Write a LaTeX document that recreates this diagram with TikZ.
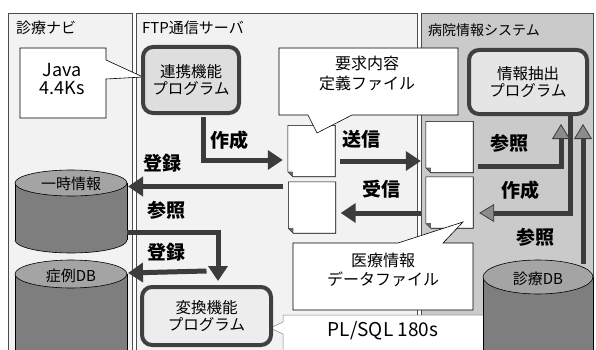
\documentclass[tikz,border=0pt]{standalone}
\usepackage{fontspec}
\setmainfont{Noto Sans CJK JP}
\usetikzlibrary{arrows.meta,calc}
\newcommand{\fsz}[1]{\fontsize{#1}{#1}\selectfont}
\definecolor{arrowc}{HTML}{3C3C3C}
\definecolor{panelA}{HTML}{F2F2F2}
\definecolor{panelC}{HTML}{CACACA}
\definecolor{cyltop}{HTML}{A4A4A4}
\definecolor{cylbody}{HTML}{7E7E7E}
\begin{document}
\begin{tikzpicture}[x=1pt,y=-1pt,
  panel/.style={draw=black!70, line width=0.8pt},
  ttl/.style={font=\fsz{15}, inner sep=0pt, anchor=west},
  prog/.style={draw=black!75, line width=4pt, rounded corners=10pt, align=center, font=\fsz{15.5}\linespread{1.1}\selectfont},
  filebox/.style={minimum width=47pt, minimum height=51pt, inner sep=0pt},
  callout/.style={draw=black, line width=0.6pt, fill=white},
  ctext/.style={align=center, inner sep=0pt},
  lbl/.style={font=\fsz{19}\bfseries, inner sep=0pt},
  cyllbl/.style={font=\fsz{15}, inner sep=0pt},
  fat/.style={draw=arrowc, line width=5pt, -{Triangle[length=15pt,width=19pt]}},
  fatB/.style={draw=arrowc, line width=5pt, -{Triangle[length=15pt,width=18pt,fill=black!45,line width=0.8pt]}},
]
\useasboundingbox (0,0) rectangle (596,350);
\clip (0,0) rectangle (596,350);
\fill[white] (0,0) rectangle (596,350);

% panels
\draw[panel, fill=panelA] (8,13) rectangle (132,360);
\draw[panel, fill=panelA] (136,13) rectangle (417,360);
\draw[panel, fill=panelC] (421,13) rectangle (593,360);

% titles
\node[ttl] (t1) at (16,28) {診療ナビ};
\node[ttl] (t2) at (142,28) {FTP通信サーバ};
\node[ttl, font=\fsz{14}] (t3) at (428,30) {病院情報システム};

% Java callout
\draw[callout] (20,48) -- (106,48) -- (106,60) -- (143,77) -- (106,79) -- (106,118) -- (20,118) -- cycle;
\node[ctext, font=\fsz{18}\linespread{1.0}\selectfont] (java) at (62,79) {Java\\4.4Ks};

% cylinders
% 一時情報
\fill[cylbody] (15,183) rectangle (127,240);
\fill[cylbody] (71,240) ellipse [x radius=56, y radius=13];
\begin{scope}
  \clip (10,240) rectangle (132,256);
  \draw[line width=0.6pt] (71,240) ellipse [x radius=56, y radius=13];
\end{scope}
\draw[line width=0.6pt] (15,183) -- (15,240) (127,183) -- (127,240);
\draw[line width=0.6pt, fill=cyltop] (71,183) ellipse [x radius=56, y radius=13];
\node[cyllbl] (ichiji) at (71,184) {一時情報};
\coordinate (ichijiR) at (128,186.5);
\coordinate (ichijiR2) at (127,232);
% 症例DB
\fill[cylbody] (15,274) rectangle (127,360);
\draw[line width=0.6pt] (15,274) -- (15,360) (127,274) -- (127,360);
\draw[line width=0.6pt, fill=cyltop] (71,274) ellipse [x radius=56, y radius=14];
\node[cyllbl] (shorei) at (71,276) {症例DB};
\coordinate (shoreiR) at (128,273);

% program boxes
\node[prog, fill=black!13, minimum width=96pt, minimum height=66pt] (renkei) at (191,80) {連携機能\\プログラム};
\node[prog, fill=black!10, minimum width=118pt, minimum height=64pt] (chushutsu) at (528,82) {情報抽出\\プログラム};

% files
\node[filebox] (file1) at (311.5,151) {};
\node[filebox] (file2) at (312,207.5) {};
\node[filebox] (file3) at (449.5,147) {};
\node[filebox] (file4) at (449.5,202.5) {};
\foreach \f in {file1,file2,file3,file4} {
  \draw[fill=white, line width=0.6pt] (\f.north west) -- (\f.north east) -- (\f.south east) -- ($(\f.south west)+(5,0)$) -- ($(\f.south west)+(0,-5)$) -- cycle;
  \fill[black!60] ($(\f.south west)+(5,0)$) -- ($(\f.south west)+(0,-5)$) -- ($(\f.south west)+(5,-5)$) -- cycle;
}

% callouts
\draw[callout] (279,48) -- (458,48) -- (458,115) -- (352,115) -- (317,133) -- (308,115) -- (279,115) -- cycle;
\node[ctext, font=\fsz{16}\linespread{1.3}\selectfont] (yokyu) at (367,73.5) {要求内容\\定義ファイル};
\draw[callout] (293,243) -- (398,243) -- (463,222) -- (443,243) -- (473,243) -- (473,310) -- (293,310) -- cycle;
\node[ctext, font=\fsz{16}\linespread{1.2}\selectfont] (iryo) at (383,270) {医療情報\\データファイル};
\draw[callout, draw=black!50, line width=0.5pt] (283,315) -- (488,315) -- (488,360) -- (283,360) -- (283,334) -- (270,328) -- (283,322) -- cycle;
\node[ctext, font=\fsz{19}] (plsql) at (383,331) {PL/SQL 180s};

\node[prog, fill=black!7, minimum width=129pt, minimum height=58pt] (henkan) at (206.5,316) {変換機能\\プログラム};

% 診療DB
\fill[cylbody] (483,277) rectangle (593,360);
\draw[line width=0.6pt] (483,277) -- (483,360) (593,277) -- (593,360);
\draw[line width=0.6pt, fill=cyltop] (538,277) ellipse [x radius=55, y radius=17];
\node[cyllbl] (shinryo) at (538,279) {診療DB};
\coordinate (shinryoT) at (583,264);

% arrows
\draw[fat] ($(renkei.south)+(12,2)$) |- ($(file1.west)+(-5,9)$);
\draw[fat] ($(file1.east)+(5,10)$) -- ($(file3.west)+(-5,14)$);
\draw[fat] ($(file4.west)+(-5,10.5)$) -- ($(file2.east)+(5,5.5)$);
\draw[fat] ($(file2.west)+(-5,-21)$) -- (ichijiR);
\draw[fat] (ichijiR2) -| ($(henkan.north)+(11.5,-4)$);
\draw[fat] ($(henkan.north)+(0,-14)$) -- (shoreiR);
\draw[fatB] ($(chushutsu.south)+(42,0)$) |- ($(file4.east)+(6,10.5)$);
\draw[fatB] ($(file3.east)+(5,19)$) -| ($(chushutsu.south)+(33,8)$);
\draw[fatB] (shinryoT) -- ($(chushutsu.south)+(55,8)$);

% labels
\node[lbl] (l1) at (229,140) {作成};
\node[lbl] (l2) at (361,139) {送信};
\node[lbl] (l3) at (381,189) {受信};
\node[lbl] (l4) at (162,163) {登録};
\node[lbl] (l5) at (166,210) {参照};
\node[lbl] (l6) at (166,252) {登録};
\node[lbl] (l7) at (509,143) {参照};
\node[lbl] (l8) at (520,190) {作成};
\node[lbl] (l9) at (535,237) {参照};
\end{tikzpicture}
\end{document}
